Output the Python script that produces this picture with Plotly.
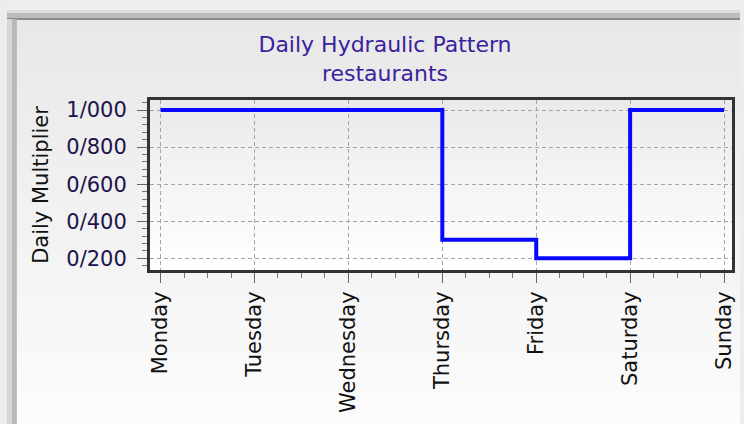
import plotly.graph_objects as go

# Daily hydraulic demand pattern for restaurants
days = ["Monday", "Tuesday", "Wednesday", "Thursday", "Friday", "Saturday", "Sunday"]
multiplier = [1.0, 1.0, 1.0, 0.3, 0.2, 1.0, 1.0]

y_tick_values = [0.2, 0.4, 0.6, 0.8, 1.0]
y_tick_labels = ["0/200", "0/400", "0/600", "0/800", "1/000"]

W, H = 744, 424
PL, PR, PT, PB = 150, 736, 100, 270  # plot area in pixels
FONT = "DejaVu Sans"


def px_x(x):
    return (x - PL) / (PR - PL)


def px_y(y):
    return (PB - y) / (PB - PT)


def grey(v):
    v = int(round(v))
    return f"rgb({v},{v},{v})"


shapes = []


def band(x0, y0, x1, y1, color):
    shapes.append(dict(type="rect", xref="paper", yref="paper",
                       x0=px_x(x0), x1=px_x(x1), y0=px_y(y1), y1=px_y(y0),
                       line=dict(width=0), fillcolor=color, layer="below"))


# window frame shading
band(0, 0, W, 10, grey(238))
band(0, 10, W, 13, grey(222))
band(0, 13, W, 18, grey(188))
band(0, 18, W, 20, grey(140))
band(0, 0, 6, H, grey(236))
band(6, 19, 11, H, grey(214))
band(11, 19, 16, H, grey(184))

# panel background: vertical gradient
steps = 40
y0 = 20
for i in range(steps):
    a = y0 + (H - y0) * i / steps
    b = y0 + (H - y0) * (i + 1) / steps
    band(16, a, W, b + 0.5, grey(232 + (252 - 232) * (i + 0.5) / steps))

# plot area background: vertical gradient
steps = 24
for i in range(steps):
    a = PT + (PB - PT) * i / steps
    b = PT + (PB - PT) * (i + 1) / steps
    band(PL, a, PR, b + 0.5, grey(234 + (255 - 234) * (i + 0.5) / steps))

# frame shadow
shapes.append(dict(type="rect", xref="paper", yref="paper",
                   x0=px_x(PL - 2), x1=px_x(PR + 2), y0=px_y(PB + 2), y1=px_y(PT - 1),
                   line=dict(width=1.5, color="rgba(110,110,110,0.6)"),
                   fillcolor="rgba(0,0,0,0)", layer="below"))

fig = go.Figure()
fig.add_trace(go.Scatter(
    x=list(range(len(days))), y=multiplier,
    mode="lines", line=dict(color="#0808ff", width=4, shape="hv"),
    hoverinfo="skip", showlegend=False,
))

axis_common = dict(
    showline=True, linecolor="#333333", linewidth=3, mirror=True,
    showgrid=True, gridcolor="#a4a4a4", gridwidth=1, griddash="4px,3px",
    zeroline=False, ticks="outside", tickcolor="#666666", tickwidth=1,
)

fig.update_xaxes(
    **axis_common,
    range=[-0.113, 6.085],
    tickvals=list(range(len(days))), ticktext=days,
    tickangle=-90, ticklen=10,
    tickfont=dict(family=FONT, size=21, color="#111111"),
    minor=dict(dtick=0.25, tick0=0, ticks="outside", ticklen=5,
               tickcolor="#777777", showgrid=False),
)

fig.update_yaxes(
    **axis_common,
    range=[0.137, 1.054],
    tickvals=y_tick_values, ticktext=y_tick_labels,
    ticklen=10, ticklabelstandoff=6,
    tickfont=dict(family=FONT, size=21, color="#20124a"),
    minor=dict(dtick=0.04, tick0=0, ticks="outside", ticklen=5,
               tickcolor="#777777", showgrid=False),
    title=dict(text="Daily Multiplier", standoff=12,
               font=dict(family=FONT, size=21, color="#111111")),
)

fig.update_layout(
    width=W, height=H,
    margin=dict(l=PL, r=W - PR, t=PT, b=H - PB, pad=0),
    paper_bgcolor="#ededed", plot_bgcolor="rgba(0,0,0,0)",
    title=dict(text="Daily Hydraulic Pattern<br>restaurants",
               x=385 / W, xref="container", xanchor="center",
               y=1 - 52 / H, yref="container", yanchor="top",
               font=dict(family=FONT, size=22, color="#3a229e")),
    shapes=shapes,
)

fig.write_html("out.html")
